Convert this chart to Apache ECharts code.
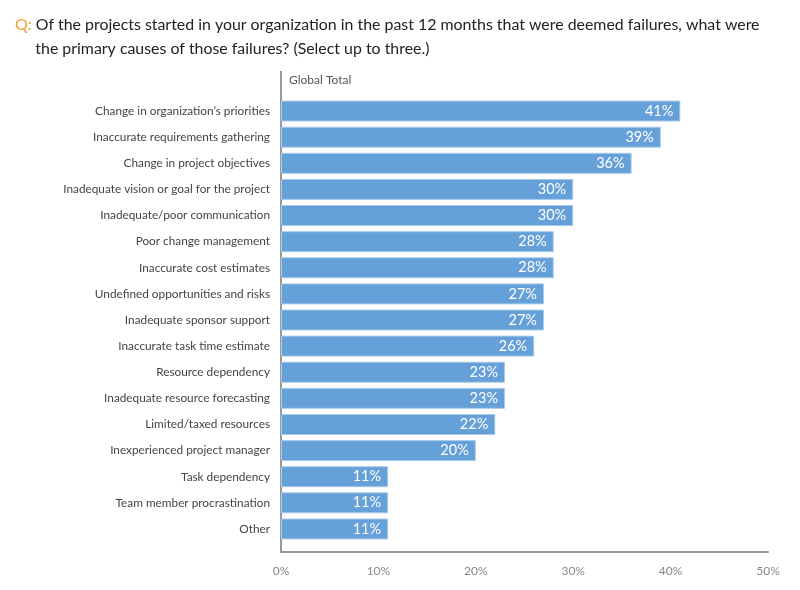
<!DOCTYPE html>
<html>
<head>
<meta charset="utf-8">
<script src="https://cdn.jsdelivr.net/npm/echarts@6/dist/echarts.min.js"></script>
<style>
  html, body { margin: 0; padding: 0; background: #fff; }
  #chart { width: 800px; height: 590px; }
</style>
</head>
<body>
<div id="chart"></div>
<script>
var causes = [
    "Change in organization\u2019s priorities",
    'Inaccurate requirements gathering',
    'Change in project objectives',
    'Inadequate vision or goal for the project',
    'Inadequate/poor communication',
    'Poor change management',
    'Inaccurate cost estimates',
    'Undefined opportunities and risks',
    'Inadequate sponsor support',
    'Inaccurate task time estimate',
    'Resource dependency',
    'Inadequate resource forecasting',
    'Limited/taxed resources',
    'Inexperienced project manager',
    'Task dependency',
    'Team member procrastination',
    'Other'
];
var globalTotal = [41, 39, 36, 30, 30, 28, 28, 27, 27, 26, 23, 23, 22, 20, 11, 11, 11];
var tickLabels = ['0%', '10%', '20%', '30%', '40%', '50%'];

var chart = echarts.init(document.querySelector('#chart'), null);
var font = 'Lato';
var option;
option = {
    textStyle: { fontFamily: font },
    title: {
        left: 10,
        top: 8,
        text: '{q|Q}{c|:} Of the projects started in your organization in the past 12 months that were deemed failures, what were\n     the primary causes of those failures? (Select up to three.)',
        textStyle: {
            fontFamily: font,
            fontSize: 15.9,
            fontWeight: 'normal',
            color: '#222',
            lineHeight: 24,
            rich: {
                q: { color: '#f0a030', fontSize: 15.9, fontFamily: font },
                c: { color: '#f0a030', fontSize: 15.9, fontFamily: font }
            }
        }
    },
    grid: {
        left: 281,
        right: 32,
        top: 98,
        bottom: 48,
        containLabel: false
    },
    xAxis: {
        type: 'value',
        min: 0,
        max: 50,
        interval: 10,
        offset: 10,
        axisLine: { show: true, lineStyle: { color: '#999', width: 2 } },
        axisTick: { show: false },
        splitLine: { show: false },
        axisLabel: {
            color: '#888',
            fontSize: 12,
            margin: 13,
            formatter: function (v) { return tickLabels[v / 10]; }
        }
    },
    yAxis: {
        type: 'category',
        inverse: true,
        data: causes,
        axisLine: { show: false },
        axisTick: { show: false },
        axisLabel: { color: '#444', fontSize: 11.8, margin: 11 }
    },
    graphic: [
        {
            type: 'line',
            shape: { x1: 281, y1: 71, x2: 281, y2: 553 },
            style: { stroke: '#999', lineWidth: 2 }
        },
        {
            type: 'text',
            left: 289,
            top: 74,
            style: { text: 'Global Total', fill: '#555', font: '12px Lato' }
        }
    ],
    series: [
        {
            name: 'Global Total',
            type: 'bar',
            data: globalTotal,
            barWidth: 21,
            itemStyle: { color: '#66a0d8', borderColor: '#a9cbec', borderWidth: 1 },
            label: {
                show: true,
                position: 'insideRight',
                distance: 7,
                color: '#fff',
                fontSize: 14.5,
                fontFamily: font,
                formatter: function (d) { return d.value + '%'; }
            },
            silent: true
        }
    ]
};

if (option && typeof option === 'object') {
    chart.setOption(option);
}

window.addEventListener('resize', function () {
    chart.resize();
})
</script>
</body>
</html>
